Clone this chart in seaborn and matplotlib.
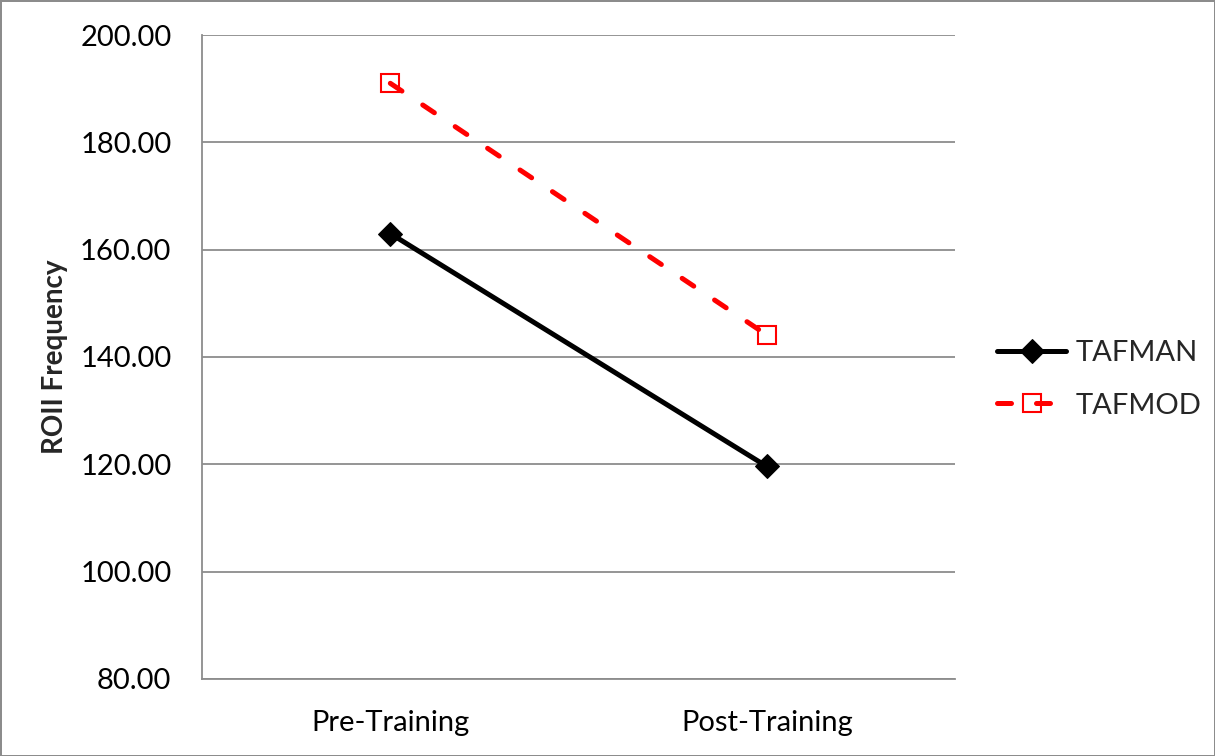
import matplotlib
matplotlib.use("Agg")
import matplotlib.pyplot as plt
import seaborn as sns
import pandas as pd

phases = ["Pre-Training", "Post-Training"]
tafman = [163.0, 119.6]
tafmod = [191.0, 144.1]

sns.set_theme(style="white")
plt.rcParams['font.family'] = ['Lato', 'DejaVu Sans']

fig = plt.figure(figsize=(12.15, 7.56), dpi=100)
fig.patch.set_edgecolor("#8c8c8c")
fig.patch.set_linewidth(2)
ax = fig.add_axes([0.1663, 0.1019, 0.6198, 0.8518])

df_man = pd.DataFrame({"phase": phases, "value": tafman})
df_mod = pd.DataFrame({"phase": phases, "value": tafmod})

sns.lineplot(data=df_man, x="phase", y="value", ax=ax, color="black", lw=3.6,
             marker="D", markersize=12, markeredgecolor="black", label="TAFMAN",
             sort=False, solid_capstyle="round")
sns.lineplot(data=df_mod, x="phase", y="value", ax=ax, color="#ff0000", lw=3.6,
             marker="s", markersize=13, markerfacecolor="none", markeredgecolor="#ff0000",
             markeredgewidth=1.5, label="TAFMOD", sort=False, dashes=False,
             linestyle=(0, (2.8, 5)), dash_capstyle="round")

ax.set_xlim(-0.5, 1.5)
ax.set_ylim(80, 200)
ax.set_yticks(range(80, 201, 20))
ax.set_yticklabels([f"{v:.2f}" for v in range(80, 201, 20)])
ax.yaxis.grid(True, color="#8c8c8c", lw=1.3)
ax.set_axisbelow(True)
for s in ["top", "right"]:
    ax.spines[s].set_visible(False)
for s in ["left", "bottom"]:
    ax.spines[s].set_color("#8c8c8c")
    ax.spines[s].set_linewidth(1.3)
ax.tick_params(axis="both", labelsize=21, colors="black", length=0)
ax.tick_params(axis="y", pad=22)
ax.tick_params(axis="x", pad=22)
ax.set_xlabel("")
ax.set_ylabel("ROII Frequency", fontsize=20, fontweight="bold", labelpad=9)

ax.legend(loc="center left", bbox_to_anchor=(1.056, 0.465), frameon=False,
          fontsize=21, handlelength=2.35, labelspacing=0.9, handletextpad=0.35,
          borderpad=0, borderaxespad=0)

fig.savefig("out.png", dpi=100, edgecolor=fig.get_edgecolor())
